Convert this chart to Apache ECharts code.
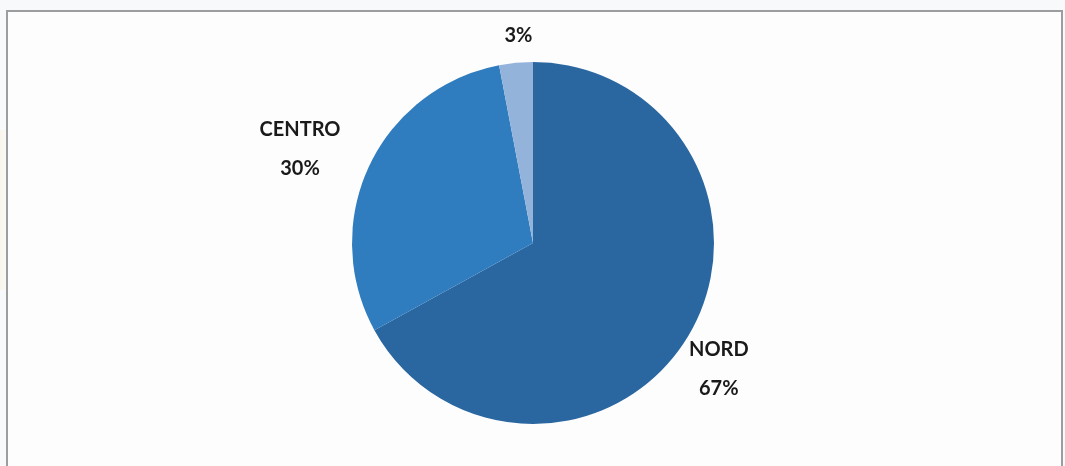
<!DOCTYPE html>
<html>
<head>
<meta charset="utf-8">
<style>
  html, body { margin: 0; padding: 0; background: #f8f9fb; }
  #wrap { position: relative; width: 1065px; height: 466px; overflow: hidden;
          background: linear-gradient(to right, rgba(255,236,190,0.3) 0px, rgba(255,236,190,0) 7px) no-repeat 0 130px / 8px 160px, #f8f9fb; }
  #frame { position: absolute; left: 6px; top: 10px; width: 1053px; height: 470px;
           border: 2px solid #9c9d9f; border-bottom: none; background: #fdfdfd; }
  #chart { position: absolute; left: 0; top: 0; width: 1065px; height: 466px; }
</style>
</head>
<body>
<div id="wrap">
  <div id="frame"></div>
  <div id="chart"></div>
</div>
<script src="https://cdn.jsdelivr.net/npm/echarts@6/dist/echarts.min.js"></script>
<script>
// Share of the total by area
const areas = ['NORD', 'CENTRO', 'SUD'];
const shares = [67, 30, 3];
const sliceColors = ['#2a67a1', '#2f7cbf', '#93b3db'];
// whether each slice's label shows its name
const showName = [true, true, false];

const centre = [533, 243];
const radius = 181;
// how far past the rim each label sits, plus a small nudge [dx, dy]
const labelGap = [43, 71, 27];
const labelNudge = [[-7, 12], [-5, 13], [5, 0]];

const total = shares.reduce((a, b) => a + b, 0);
const midAngles = [];
let run = 0;
shares.forEach(v => { midAngles.push((run + v / 2) / total * Math.PI * 2); run += v; });

const chart = echarts.init(document.getElementById('chart'), null, { renderer: 'canvas' });
chart.setOption({
  backgroundColor: 'transparent',
  animation: false,
  series: [{
    type: 'pie',
    center: centre,
    radius: radius,
    startAngle: 90,
    clockwise: true,
    data: areas.map((n, i) => ({ name: n, value: shares[i], itemStyle: { color: sliceColors[i] } })),
    itemStyle: { borderWidth: 0 },
    emphasis: { disabled: true },
    label: {
      show: true,
      position: 'outside',
      formatter: p => showName[p.dataIndex] ? p.name + '\n' + p.percent.toFixed(0) + '%' : p.percent.toFixed(0) + '%',
      fontFamily: 'Lato, "Open Sans", sans-serif',
      fontWeight: 'bold',
      fontSize: 20,
      lineHeight: 39,
      color: '#1a1a1a'
    },
    labelLine: { show: false },
    labelLayout: p => {
      const i = p.dataIndex;
      const d = radius + labelGap[i];
      return {
        x: centre[0] + d * Math.sin(midAngles[i]) + labelNudge[i][0],
        y: centre[1] - d * Math.cos(midAngles[i]) + labelNudge[i][1],
        align: 'center',
        verticalAlign: 'middle'
      };
    }
  }]
});
</script>
</body>
</html>
